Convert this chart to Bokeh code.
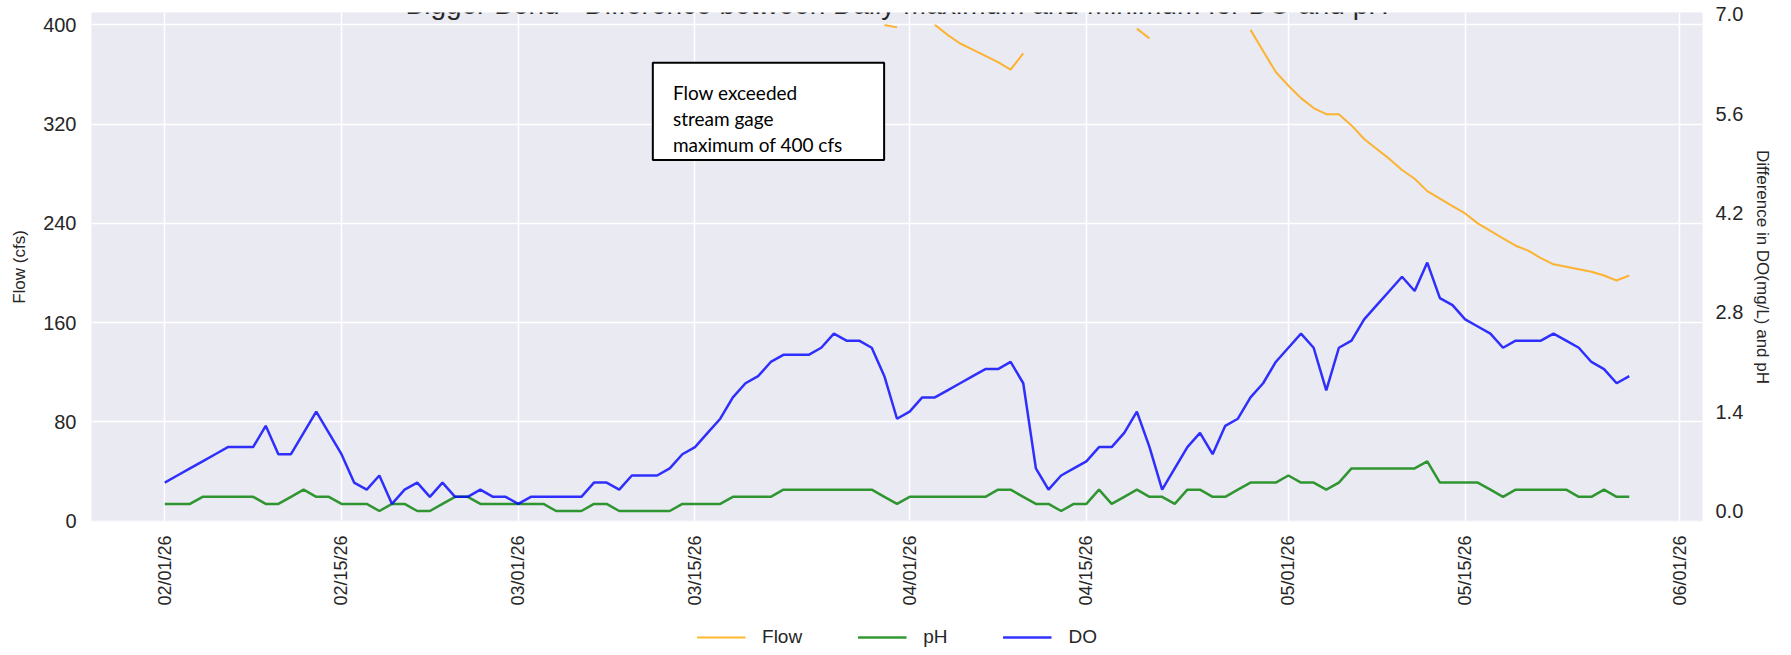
import math
from datetime import datetime, timedelta

from bokeh.plotting import figure
from bokeh.layouts import column
from bokeh.models import (Range1d, LinearAxis, FixedTicker, DatetimeTickFormatter,
                          NumeralTickFormatter, Legend, BoxAnnotation, Label,
                          ColumnDataSource)
from bokeh.embed import file_html
from bokeh.resources import INLINE

nan = float("nan")

# ---------------- data ----------------
start_date = "2026-02-01"
n_days = 117

# Flow (cfs); values above the gage maximum are missing (nan)
flow_cfs = [
    nan, nan, nan, nan, nan, nan, nan, nan, nan, nan,
    nan, nan, nan, nan, nan, nan, nan, nan, nan, nan,
    nan, nan, nan, nan, nan, nan, nan, nan, nan, nan,
    nan, nan, nan, nan, nan, nan, nan, nan, nan, nan,
    nan, nan, nan, nan, nan, nan, nan, nan, nan, nan,
    nan, nan, nan, nan, nan, nan, nan, 400, 398, nan,
    nan, 400, 392, 385, 380, 375, 370, 364, 377, nan,
    nan, nan, nan, nan, nan, nan, nan, 397, 389, nan,
    nan, nan, nan, nan, nan, nan, 396, 379, 362, 351,
    341, 333, 328, 328, 319, 308, 300, 292, 283, 276,
    266, 260, 254, 248, 240, 234, 228, 222, 218, 212,
    207, 205, 203, 201, 198, 194, 198,
]

# daily max - min of pH
ph_diff = [
    0.1, 0.1, 0.1, 0.2, 0.2, 0.2, 0.2, 0.2, 0.1, 0.1,
    0.2, 0.3, 0.2, 0.2, 0.1, 0.1, 0.1, 0.0, 0.1, 0.1,
    0.0, 0.0, 0.1, 0.2, 0.2, 0.1, 0.1, 0.1, 0.1, 0.1,
    0.1, 0.0, 0.0, 0.0, 0.1, 0.1, 0.0, 0.0, 0.0, 0.0,
    0.0, 0.1, 0.1, 0.1, 0.1, 0.2, 0.2, 0.2, 0.2, 0.3,
    0.3, 0.3, 0.3, 0.3, 0.3, 0.3, 0.3, 0.2, 0.1, 0.2,
    0.2, 0.2, 0.2, 0.2, 0.2, 0.2, 0.3, 0.3, 0.2, 0.1,
    0.1, 0.0, 0.1, 0.1, 0.3, 0.1, 0.2, 0.3, 0.2, 0.2,
    0.1, 0.3, 0.3, 0.2, 0.2, 0.3, 0.4, 0.4, 0.4, 0.5,
    0.4, 0.4, 0.3, 0.4, 0.6, 0.6, 0.6, 0.6, 0.6, 0.6,
    0.7, 0.4, 0.4, 0.4, 0.4, 0.3, 0.2, 0.3, 0.3, 0.3,
    0.3, 0.3, 0.2, 0.2, 0.3, 0.2, 0.2,
]

# daily max - min of DO (mg/L)
do_diff = [
    0.4, 0.5, 0.6, 0.7, 0.8, 0.9, 0.9, 0.9, 1.2, 0.8,
    0.8, 1.1, 1.4, 1.1, 0.8, 0.4, 0.3, 0.5, 0.1, 0.3,
    0.4, 0.2, 0.4, 0.2, 0.2, 0.3, 0.2, 0.2, 0.1, 0.2,
    0.2, 0.2, 0.2, 0.2, 0.4, 0.4, 0.3, 0.5, 0.5, 0.5,
    0.6, 0.8, 0.9, 1.1, 1.3, 1.6, 1.8, 1.9, 2.1, 2.2,
    2.2, 2.2, 2.3, 2.5, 2.4, 2.4, 2.3, 1.9, 1.3, 1.4,
    1.6, 1.6, 1.7, 1.8, 1.9, 2.0, 2.0, 2.1, 1.8, 0.6,
    0.3, 0.5, 0.6, 0.7, 0.9, 0.9, 1.1, 1.4, 0.9, 0.3,
    0.6, 0.9, 1.1, 0.8, 1.2, 1.3, 1.6, 1.8, 2.1, 2.3,
    2.5, 2.3, 1.7, 2.3, 2.4, 2.7, 2.9, 3.1, 3.3, 3.1,
    3.5, 3.0, 2.9, 2.7, 2.6, 2.5, 2.3, 2.4, 2.4, 2.4,
    2.5, 2.4, 2.3, 2.1, 2.0, 1.8, 1.9,
]

tick_dates = ["2026-02-01", "2026-02-15", "2026-03-01", "2026-03-15", "2026-04-01",
              "2026-04-15", "2026-05-01", "2026-05-15", "2026-06-01"]
flow_ticks = [0, 80, 160, 240, 320, 400]
diff_ticks = [0.0, 1.4, 2.8, 4.2, 5.6, 7.0]

series_names = ["Flow", "pH", "DO"]
series_colors = ["orange", "green", "blue"]

title_text = "Bigger Bend - Difference between Daily Maximum and Minimum for DO and pH"
note_lines = ["Flow exceeded", "stream gage", "maximum of 400 cfs"]

# ---------------- helpers ----------------
EPOCH = datetime(1970, 1, 1)
d0 = datetime.strptime(start_date, "%Y-%m-%d")
dates = [d0 + timedelta(days=i) for i in range(n_days)]


def ms(d):
    return (d - EPOCH).total_seconds() * 1000.0


def day_ms(day):
    return ms(d0 + timedelta(days=day))


tick_ms = [ms(datetime.strptime(t, "%Y-%m-%d")) for t in tick_dates]

src = ColumnDataSource(dict(date=dates, flow=flow_cfs, ph=ph_diff, do=do_diff))

FONT = "Liberation Sans"
TXT = "#262626"
W = 1791

p = figure(width=W, height=618, x_axis_type="datetime",
           x_range=Range1d(day_ms(-5.8), day_ms(121.8)),
           y_range=Range1d(-0.3, 410),
           output_backend="svg", toolbar_location=None,
           min_border_left=91, min_border_right=89,
           min_border_top=12, min_border_bottom=97)
p.extra_y_ranges = {"diff": Range1d(-0.148, 7.024)}

p.background_fill_color = "#EAEAF2"
p.border_fill_color = "white"
p.outline_line_color = None

# x axis
xt = FixedTicker(ticks=tick_ms)
p.xaxis.ticker = xt
p.xgrid.ticker = xt
fmt = "%m/%d/%y"
p.xaxis.formatter = DatetimeTickFormatter(days=fmt, months=fmt, years=fmt, hours=fmt,
                                          minutes=fmt, seconds=fmt, milliseconds=fmt,
                                          microseconds=fmt)
p.xaxis.major_label_orientation = math.pi / 2
p.xaxis.major_label_standoff = 8

# left axis
yt = FixedTicker(ticks=flow_ticks)
p.yaxis.ticker = yt
p.ygrid.ticker = yt
p.yaxis.axis_label = "Flow (cfs)"
p.yaxis.major_label_standoff = 9
p.yaxis.axis_label_standoff = 11

# right axis
ra = LinearAxis(y_range_name="diff", ticker=FixedTicker(ticks=diff_ticks),
                formatter=NumeralTickFormatter(format="0.0"),
                axis_label="Difference in DO(mg/L) and pH")
ra.major_label_standoff = 7
ra.axis_label_standoff = 7
p.add_layout(ra, "right")

for ax in [p.xaxis[0], p.yaxis[0], ra]:
    ax.axis_line_color = None
    ax.major_tick_line_color = None
    ax.minor_tick_line_color = None
    ax.major_label_text_font = FONT
    ax.major_label_text_color = TXT
    ax.axis_label_text_font = FONT
    ax.axis_label_text_color = TXT
    ax.axis_label_text_font_style = "normal"
    ax.axis_label_text_font_size = "17px"
p.xaxis.major_label_text_font_size = "18px"
p.yaxis.major_label_text_font_size = "20px"
ra.major_label_text_font_size = "20px"

p.xgrid.grid_line_color = "white"
p.ygrid.grid_line_color = "white"
p.xgrid.grid_line_width = 1.5
p.ygrid.grid_line_width = 1.5

# lines
line_widths = [2, 2.5, 2.5]
p.line("date", "flow", source=src, line_color=series_colors[0], line_alpha=0.8,
       line_width=line_widths[0])
p.line("date", "ph", source=src, y_range_name="diff", line_color=series_colors[1],
       line_alpha=0.8, line_width=line_widths[1])
p.line("date", "do", source=src, y_range_name="diff", line_color=series_colors[2],
       line_alpha=0.8, line_width=line_widths[2])

# annotation box
box = BoxAnnotation(left=day_ms(38.66), right=day_ms(56.98), top=369.4, bottom=291.2,
                    fill_color="white", fill_alpha=1.0, line_color="black", line_width=2,
                    line_alpha=1.0)
p.add_layout(box)
for line_text, yb in zip(note_lines, [345.7, 324.7, 303.7]):
    p.add_layout(Label(x=day_ms(40.25), y=yb, text=line_text, text_font="Lato",
                       text_font_size="19px", text_color="black",
                       text_baseline="alphabetic", text_align="left"))

# title (its upper part is cut off at the top edge, as in the source image)
p.add_layout(Label(x=day_ms(58.0), y=416.7, text=title_text, text_font=FONT,
                   text_font_size="28px", text_color=TXT, text_align="center",
                   text_baseline="alphabetic"))

# ---------------- legend strip below the chart ----------------
pl = figure(width=W, height=37, output_backend="svg", toolbar_location=None,
            x_range=Range1d(0, 1), y_range=Range1d(0, 1),
            x_axis_location=None, y_axis_location=None,
            min_border_left=0, min_border_right=0, min_border_top=0, min_border_bottom=0)
pl.grid.visible = False
pl.outline_line_color = None
pl.background_fill_color = "white"
pl.border_fill_color = "white"
items = []
for name, col, lw in zip(series_names, series_colors, line_widths):
    # proxy renderer (no visible data) that only provides the legend swatch
    r = pl.line(x=[nan, nan], y=[nan, nan], line_color=col, line_alpha=0.8, line_width=lw)
    items.append((name, [r]))
legend = Legend(items=items, orientation="horizontal", location="center",
                glyph_width=49, glyph_height=20, label_standoff=17, spacing=55,
                border_line_color=None, background_fill_alpha=0,
                label_text_font=FONT, label_text_font_size="19px",
                label_text_color=TXT, margin=0, padding=0)
pl.add_layout(legend)

layout = column(p, pl, spacing=0)
open("out.html", "w").write(file_html(layout, INLINE))
